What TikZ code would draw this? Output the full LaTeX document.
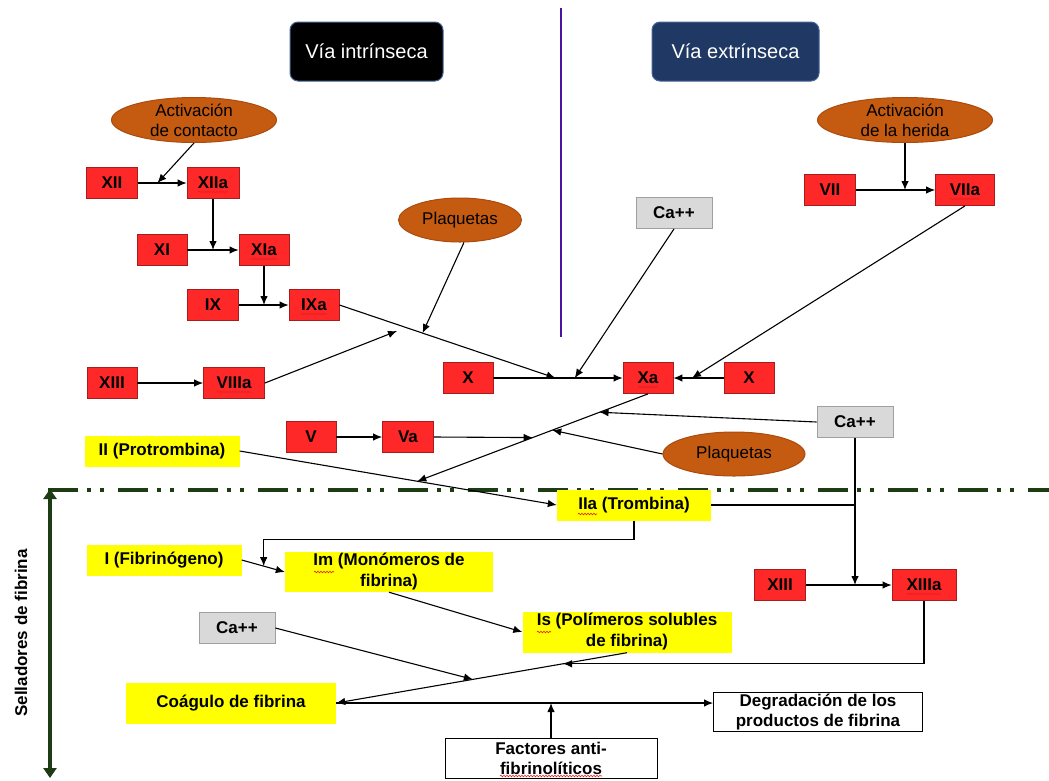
\documentclass[tikz,border=0pt]{standalone}
\usepackage{fontspec}
\setmainfont{Liberation Sans}
\usetikzlibrary{arrows.meta,shapes.geometric,calc,decorations.pathmorphing}
\definecolor{redbox}{RGB}{255,40,40}
\definecolor{redborder}{RGB}{165,30,30}
\definecolor{ybox}{RGB}{255,255,0}
\definecolor{ellfill}{RGB}{197,90,17}
\definecolor{elldraw}{RGB}{170,75,15}
\definecolor{grayfill}{RGB}{217,217,217}
\definecolor{grayline}{RGB}{160,160,160}
\definecolor{navyfill}{RGB}{31,56,100}
\definecolor{titleline}{RGB}{70,100,150}
\definecolor{dkgreen}{RGB}{30,60,20}
\definecolor{purp}{RGB}{75,20,160}
\definecolor{spellred}{RGB}{230,30,30}
\begin{document}
\begin{tikzpicture}[x=1pt,y=-1pt,
  fac/.style={draw=redborder, fill=redbox, line width=0.8pt, minimum height=31pt, inner sep=0pt,
    font=\fontsize{17}{19}\selectfont\bfseries},
  ybx/.style={fill=ybox, inner sep=0pt, align=center, font=\fontsize{17}{21}\selectfont\bfseries},
  gbx/.style={draw=grayline, fill=grayfill, line width=0.8pt, inner sep=0pt, minimum width=76pt,
    minimum height=31pt, font=\fontsize{17}{19}\selectfont\bfseries},
  wbx/.style={draw=black, fill=white, line width=0.9pt, inner sep=0pt, align=center,
    font=\fontsize{17}{20}\selectfont\bfseries},
  ellnode/.style={ellipse, draw=elldraw, fill=ellfill, line width=1pt, inner sep=0pt},
  elltext/.style={align=center, inner sep=0pt, font=\fontsize{17}{20}\selectfont},
  titlebox/.style={rounded corners=8pt, draw=titleline, line width=1pt, minimum height=59pt,
    text=white, font=\fontsize{20}{24}\selectfont},
  conn/.style={line width=1.1pt, -{Latex[length=9pt,width=7.5pt]}},
  plain/.style={line width=1.1pt},
  squig/.style={spellred, line width=0.6pt, decorate,
    decoration={snake, segment length=3pt, amplitude=0.8pt}}
]
\useasboundingbox (0,0) rectangle (1049,780);

% separators
\coordinate (pt) at (561,8);
\coordinate (pb) at (561,337);
\draw[purp, line width=2pt] (pt) -- (pb);
\coordinate (dl) at (48,490);
\coordinate (dr) at (1049,490);
\draw[dkgreen, line width=4pt, dash pattern=on 30pt off 9pt on 4pt off 9pt on 4pt off 14pt] (dl) -- (dr);
\coordinate (gtop) at (50,489);
\coordinate (gbot) at (50,778);
\draw[dkgreen, line width=4pt, {Triangle[length=10pt,width=13pt]}-{Triangle[length=10pt,width=13pt]}] (gtop) -- (gbot);
\node[rotate=90, font=\fontsize{17}{19}\selectfont\bfseries, inner sep=0pt] (sell) at (21,633) {Selladores de fibrina};

% titles
\node[titlebox, fill=black, minimum width=153pt] (vi) at (366.5,51.5) {Vía intrínseca};
\node[titlebox, fill=navyfill, minimum width=167pt] (ve) at (735.5,51.5) {Vía extrínseca};

% ellipses
\node[ellnode, minimum width=165pt, minimum height=45pt,
  label={[elltext]center:{Activación\\de contacto}}] (actc) at (194,120) {};
\node[ellnode, minimum width=175pt, minimum height=45pt,
  label={[elltext]center:{Activación\\de la herida}}] (herida) at (905,120) {};
\node[ellnode, minimum width=123pt, minimum height=44pt,
  label={[elltext]center:{Plaquetas}}] (plaq1) at (460,220) {};
\node[ellnode, minimum width=142pt, minimum height=44pt,
  label={[elltext]center:{Plaquetas}}] (plaq2) at (734,454) {};

% red factor boxes
\node[fac, minimum width=51pt] (XII) at (112,183) {XII};
\node[fac, minimum width=52pt] (XIIa) at (213,183) {XIIa};
\node[fac, minimum width=50pt] (XI) at (162,250) {XI};
\node[fac, minimum width=50pt] (XIa) at (264,250) {XIa};
\node[fac, minimum width=51pt] (IX) at (213,305) {IX};
\node[fac, minimum width=50pt] (IXa) at (314,305) {IXa};
\node[fac, minimum width=50pt] (XIIIl) at (112,383) {XIII};
\node[fac, minimum width=61pt] (VIIIa) at (234,383) {VIIIa};
\node[fac, minimum width=50pt] (X) at (468,378) {X};
\node[fac, minimum width=50pt] (Xa) at (648,378) {Xa};
\node[fac, minimum width=50pt] (Xr) at (749,378) {X};
\node[fac, minimum width=51pt] (VII) at (830,190) {VII};
\node[fac, minimum width=59pt] (VIIa) at (965,190) {VIIa};
\node[fac, minimum width=50pt] (V) at (311,437) {V};
\node[fac, minimum width=51pt] (Va) at (408,437) {Va};
\node[fac, minimum width=51pt] (XIIIr) at (780,585) {XIII};
\node[fac, minimum width=64pt] (XIIIa) at (924,585) {XIIIa};

% gray boxes
\node[gbx] (ca1) at (674,213) {Ca++};
\node[gbx] (ca2) at (855,422) {Ca++};
\node[gbx] (ca3) at (237,628) {Ca++};

% yellow boxes
\node[ybx, minimum width=155pt, minimum height=31pt] (II) at (162,451) {II (Protrombina)};
\node[ybx, minimum width=154pt, minimum height=31pt] (IIa) at (634,505) {IIa (Trombina)};
\node[ybx, minimum width=155pt, minimum height=31pt] (I) at (164,560) {I (Fibrinógeno)};
\node[ybx, minimum width=208pt, minimum height=40pt] (Im) at (389,572) {Im (Monómeros de\\fibrina)};
\node[ybx, minimum width=209pt, minimum height=41pt] (Is) at (627,632) {Is (Polímeros solubles\\de fibrina)};
\node[ybx, minimum width=210pt, minimum height=41pt] (coag) at (231,703) {Coágulo de fibrina};

% white boxes
\node[wbx, minimum width=209pt, minimum height=39pt] (degr) at (818,712) {Degradación de los\\productos de fibrina};
\node[wbx, minimum width=212pt, minimum height=40pt] (fact) at (551,758) {Factores anti-\\fibrinolíticos};

% spell-check underlines
\draw[squig] ($(XIIa.center)+(-15,9)$) -- ($(XIIa.center)+(15,9)$);
\draw[squig] ($(XIa.center)+(-13,9)$) -- ($(XIa.center)+(13,9)$);
\draw[squig] ($(IXa.center)+(-13,9)$) -- ($(IXa.center)+(13,9)$);
\draw[squig] ($(VIIIa.center)+(-17,9)$) -- ($(VIIIa.center)+(17,9)$);
\draw[squig] ($(Xa.center)+(-10,9)$) -- ($(Xa.center)+(10,9)$);
\draw[squig] ($(VIIa.center)+(-15,9)$) -- ($(VIIa.center)+(15,9)$);
\draw[squig] ($(XIIIa.center)+(-17,9)$) -- ($(XIIIa.center)+(17,9)$);
\draw[squig] ($(IIa.center)+(-56,9)$) -- ($(IIa.center)+(-37,9)$);
\draw[squig] ($(Im.center)+(-75,0)$) -- ($(Im.center)+(-55,0)$);
\draw[squig] ($(Is.center)+(-90,0)$) -- ($(Is.center)+(-76,0)$);
\draw[squig] ($(fact.center)+(-51,18)$) -- ($(fact.center)+(51,18)$);

% junction points
\coordinate (j12) at ($(XII.east)!0.4!(XIIa.west)$);
\coordinate (jX1) at ($(X.east)!0.48!(Xa.west)$);
\coordinate (jX2) at ($(X.east)!0.63!(Xa.west)$);
\coordinate (jX3) at ($(Xa.east)!0.37!(Xr.west)$);
\coordinate (jP1) at ($(IXa.east)!0.385!(jX1)$);
\coordinate (v8end) at (397,331);
\coordinate (jII) at ($(II.east)!0.56!(IIa.west)$);
\coordinate (jVa) at ($(Xa.south)!0.5!(jII)$);
\coordinate (jCa2) at ($(Xa.south)!0.21!(jII)$);
\coordinate (jPl2) at ($(Xa.south)!0.415!(jII)$);
\coordinate (jIm) at ($(I.east)!0.51!(Im.west)$);
\coordinate (jC) at ($(Is.south)!0.53!(coag.east)$);
\coordinate (jX13) at ($(Is.south)!0.22!(coag.east)$);

% intrinsic cascade
\draw[conn] (XII) -- (XIIa);
\draw[conn] (actc.south) -- (j12);
\draw[conn] (XI) -- (XIa);
\draw[conn] (XIIa.south) -- (XIIa.south |- XI.east);
\draw[conn] (IX) -- (IXa);
\draw[conn] (XIa.south) -- (XIa.south |- IX.east);
\draw[conn] (IXa.east) -- (jX1);
\draw[conn] (plaq1.-80) -- (jP1);
\draw[conn] (XIIIl) -- (VIIIa);
\draw[conn] (VIIIa.east) -- (v8end);

% extrinsic
\draw[conn] (VII) -- (VIIa);
\draw[conn] (herida.south) -- (herida.south |- VII.east);
\draw[conn] (VIIa.south) -- (jX3);
\draw[conn] (Xr.west) -- (Xa.east);

% common
\draw[conn] (X) -- (Xa);
\draw[conn] (ca1.south) -- (jX2);
\draw[conn] (V) -- (Va);
\draw[conn] (Va.east) -- (jVa);
\draw[conn] (Xa.south) -- (jII);
\draw[conn] (ca2.west) -- (jCa2);
\draw[conn] (plaq2.west) -- (jPl2);
\draw[conn] (II.east) -- (IIa.west);

% fibrin
\draw[plain] (IIa.east) -- (IIa.east -| ca2.south);
\draw[conn] (ca2.south) -- (ca2.south |- XIIIr.east);
\draw[conn] (XIIIr) -- (XIIIa);
\draw[conn] (IIa.south) -- ++(0,19) -| (jIm);
\draw[conn] (I.east) -- (Im.west);
\draw[conn] (Im.south) -- (Is.west);
\draw[conn] (ca3.east) -- (jC);
\draw[conn] (Is.south) -- (coag.east);
\draw[conn] (XIIIa.south) |- (jX13);
\draw[conn] (coag.east) -- (coag.east -| degr.west);
\draw[conn] (fact.north) -- (fact.north |- coag.east);
\end{tikzpicture}
\end{document}
